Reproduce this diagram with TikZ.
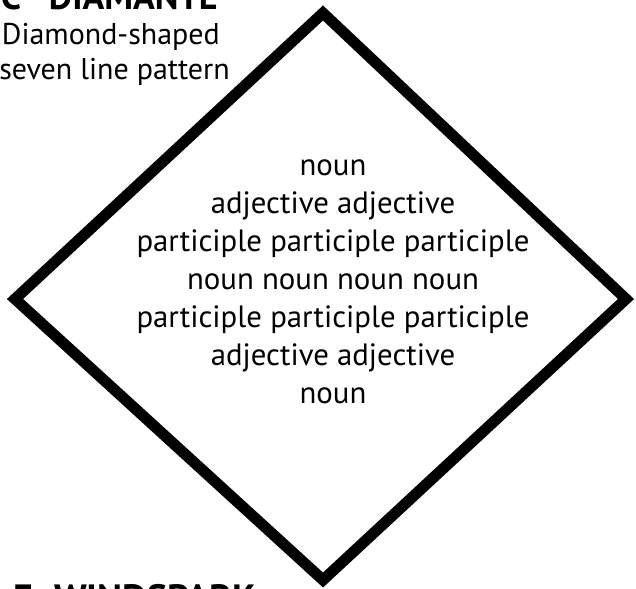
\documentclass[tikz,border=0pt]{standalone}
\usepackage{fontspec}
\setmainfont{PT Sans}
\begin{document}
\begin{tikzpicture}[x=1pt,y=-1pt,
  frame/.style={line width=11pt, line join=miter, miter limit=10},
  poem/.style={font=\fontsize{30.8}{38}\selectfont, align=center, inner sep=0pt},
  heading/.style={font=\fontsize{36}{40}\selectfont\bfseries, inner sep=0pt},
  body/.style={font=\fontsize{30}{36}\selectfont, inner sep=0pt}]
\useasboundingbox (0,0) rectangle (636,588);
\coordinate (T) at (323,13);
\coordinate (R) at (626,299);
\coordinate (B) at (323,580);
\coordinate (L) at (15,299);
\draw[frame] (T) -- (R) -- (B) -- (L) -- cycle;
\node[poem] (lines) at (333,282) {noun\\adjective adjective\\participle participle participle\\noun noun noun noun\\participle participle participle\\adjective adjective\\noun};
\node[heading, anchor=base east] (h1) at (218,10) {C\hspace{28pt}DIAMANTE};
\node[body, anchor=base east] (d1) at (220,45) {Diamond-shaped};
\node[body, anchor=base east] (d2) at (230,80) {seven line pattern};
\node[heading, font=\fontsize{38}{42}\selectfont\bfseries, anchor=base west] (h2) at (13,611) {E\hspace{21pt}WINDSPARK};
\end{tikzpicture}
\end{document}
